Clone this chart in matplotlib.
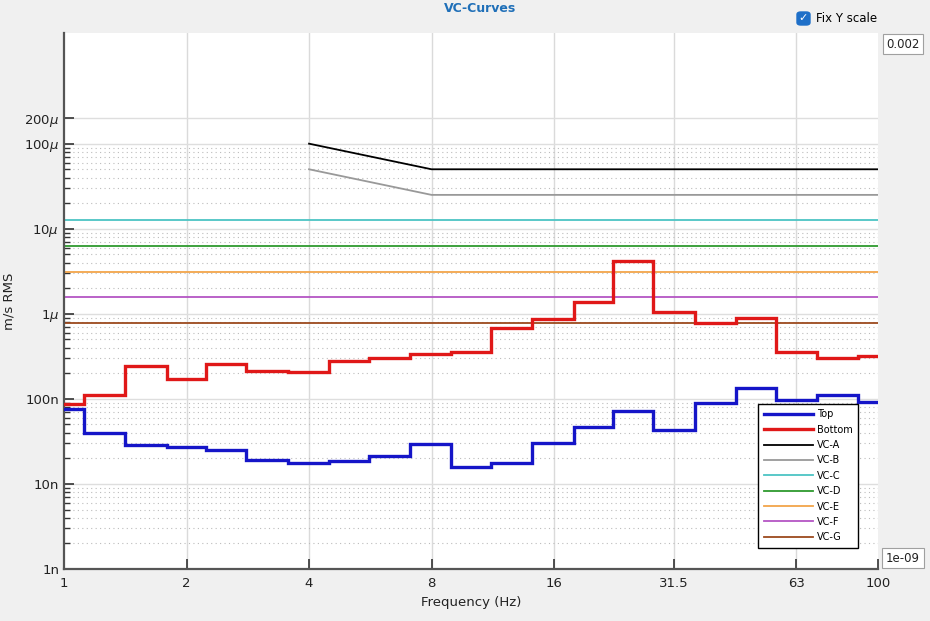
"""
VC-Curves: third-octave velocity spectra (Top / Bottom) vs. VC criteria.
"""

import matplotlib.pyplot as plt
import numpy as np
from matplotlib.patches import FancyBboxPatch

# third-octave band centres (Hz)
band_centers = [1, 1.25, 1.6, 2, 2.5, 3.15, 4, 5, 6.3, 8, 10, 12.5, 16, 20, 25,
                31.5, 40, 50, 63, 80, 100]

# m/s RMS per band
top_vals = [75e-9, 40e-9, 28.5e-9, 27.2e-9, 25.3e-9, 19.3e-9, 17.7e-9, 18.5e-9,
            21.2e-9, 29.3e-9, 16e-9, 17.8e-9, 30.6e-9, 47e-9, 72e-9, 43e-9,
            90e-9, 134e-9, 97e-9, 111e-9, 93e-9]
bottom_vals = [87e-9, 111e-9, 243e-9, 173e-9, 256e-9, 213e-9, 208e-9, 282e-9,
               304e-9, 336e-9, 360e-9, 690e-9, 866e-9, 1.37e-6, 4.13e-6, 1.05e-6,
               783e-9, 890e-9, 354e-9, 301e-9, 315e-9]

# VC criteria
vc_ab_freq = [4, 8, 100]
vc_a = [100e-6, 50e-6, 50e-6]
vc_b = [50e-6, 25e-6, 25e-6]
vc_flat_freq = [1, 100]
vc_flat = {'VC-C': 12.5e-6, 'VC-D': 6.25e-6, 'VC-E': 3.12e-6,
           'VC-F': 1.56e-6, 'VC-G': 0.78e-6}
vc_colors = {'VC-A': '#000000', 'VC-B': '#999999', 'VC-C': '#4cc4c4',
             'VC-D': '#2e9a2e', 'VC-E': '#f2a54a', 'VC-F': '#b455c4',
             'VC-G': '#9c4a1e'}

x_ticks = [1, 2, 4, 8, 16, 31.5, 63, 100]
x_labels = ['1', '2', '4', '8', '16', '31.5', '63', '100']
y_ticks = [1e-9, 1e-8, 1e-7, 1e-6, 1e-5, 1e-4, 2e-4]
y_labels = ['1n', '10n', '100n', '1$\\mu$', '10$\\mu$', '100$\\mu$', '200$\\mu$']
y_min, y_max = 1e-9, 2e-3

# band edges = geometric means between neighbouring centres
c = np.array(band_centers, dtype=float)
edges = np.concatenate([[c[0] / 2 ** (1 / 6)], np.sqrt(c[:-1] * c[1:]),
                        [c[-1] * 2 ** (1 / 6)]])

fig = plt.figure(figsize=(9.3, 6.21), dpi=100, facecolor='#f0f0f0')
ax = fig.add_axes([64 / 930, 1 - 569 / 621, 814 / 930, 536 / 621])
ax.set_facecolor('white')

ax.set_xscale('log')
ax.set_yscale('log')
ax.set_xlim(1, 100)
ax.set_ylim(y_min, y_max)

# grid
for xt in x_ticks[1:-1]:
    ax.axvline(xt, color='#dadada', lw=1, zorder=0)
for yt in y_ticks[1:]:
    ax.axhline(yt, color='#dedede', lw=1, zorder=0)
minor_y = [m * 10.0 ** e for e in range(-9, -4) for m in range(2, 10)]
for yt in minor_y:
    ax.axhline(yt, color='#bcbcbc', lw=0.8, ls=(0, (1, 3)), zorder=0)

# curves
ax.stairs(top_vals, edges, baseline=None, color='#1515c8', lw=2.4,
          label='Top', zorder=5)
ax.stairs(bottom_vals, edges, baseline=None, color='#e01818', lw=2.4,
          label='Bottom', zorder=5)
ax.plot(vc_ab_freq, vc_a, color=vc_colors['VC-A'], lw=1.3, label='VC-A')
ax.plot(vc_ab_freq, vc_b, color=vc_colors['VC-B'], lw=1.3, label='VC-B')
for name, val in vc_flat.items():
    ax.plot(vc_flat_freq, [val, val], color=vc_colors[name], lw=1.3, label=name)

# ticks
ax.set_xticks(x_ticks)
ax.set_xticklabels(x_labels)
ax.xaxis.set_minor_locator(plt.NullLocator())
ax.set_yticks(y_ticks)
ax.set_yticklabels(y_labels)
ax.set_yticks(minor_y, minor=True)
ax.yaxis.set_minor_formatter(plt.NullFormatter())
ax.tick_params(which='major', direction='in', length=7, width=1.2,
               color='#333333', labelsize=9.5, labelcolor='#222222')
ax.tick_params(which='minor', direction='in', length=4, width=1,
               color='#333333')
ax.tick_params(axis='x', pad=6)

for s in ['top', 'right']:
    ax.spines[s].set_visible(False)
for s in ['left', 'bottom']:
    ax.spines[s].set_color('#555555')
    ax.spines[s].set_linewidth(1.6)

ax.set_xlabel('Frequency (Hz)', fontsize=9.5, color='#222222', labelpad=4)
ax.set_ylabel('m/s RMS', fontsize=9.5, color='#222222')
ax.yaxis.set_label_coords(-0.06, 0.5)

leg = ax.legend(loc='lower right', bbox_to_anchor=(0.9816, 0.03), fontsize=7,
                fancybox=False, framealpha=1, edgecolor='black',
                handlelength=5, handletextpad=0.4, labelspacing=0.55,
                borderpad=0.6)
leg.get_frame().set_linewidth(1)

# title and widgets
fig.text(0.516, 0.987, 'VC-Curves', ha='center', va='center', fontsize=9,
         fontweight='bold', color='#1f6fb8')
fig.patches.append(FancyBboxPatch((797 / 930, 1 - 25 / 621), 13 / 930, 13 / 621,
                                  boxstyle='round,pad=0,rounding_size=0.004',
                                  transform=fig.transFigure, fc='#1e6fc8',
                                  ec='#1e6fc8'))
fig.text(803.5 / 930, 1 - 18.5 / 621, '\u2713', ha='center', va='center',
         fontsize=8, color='white', fontweight='bold')
fig.text(816 / 930, 1 - 18 / 621, 'Fix Y scale', ha='left', va='center',
         fontsize=8.5, color='black')

box = dict(boxstyle='square,pad=0.3', fc='white', ec='#a0a0a0', lw=0.8)
fig.text(903 / 930, 1 - 44 / 621, '0.002', ha='center', va='center',
         fontsize=8.5, color='#222222', bbox=box)
fig.text(903 / 930, 1 - 558 / 621, '1e-09', ha='center', va='center',
         fontsize=8.5, color='#222222', bbox=box)

fig.savefig('out.png', dpi=100, facecolor=fig.get_facecolor())
